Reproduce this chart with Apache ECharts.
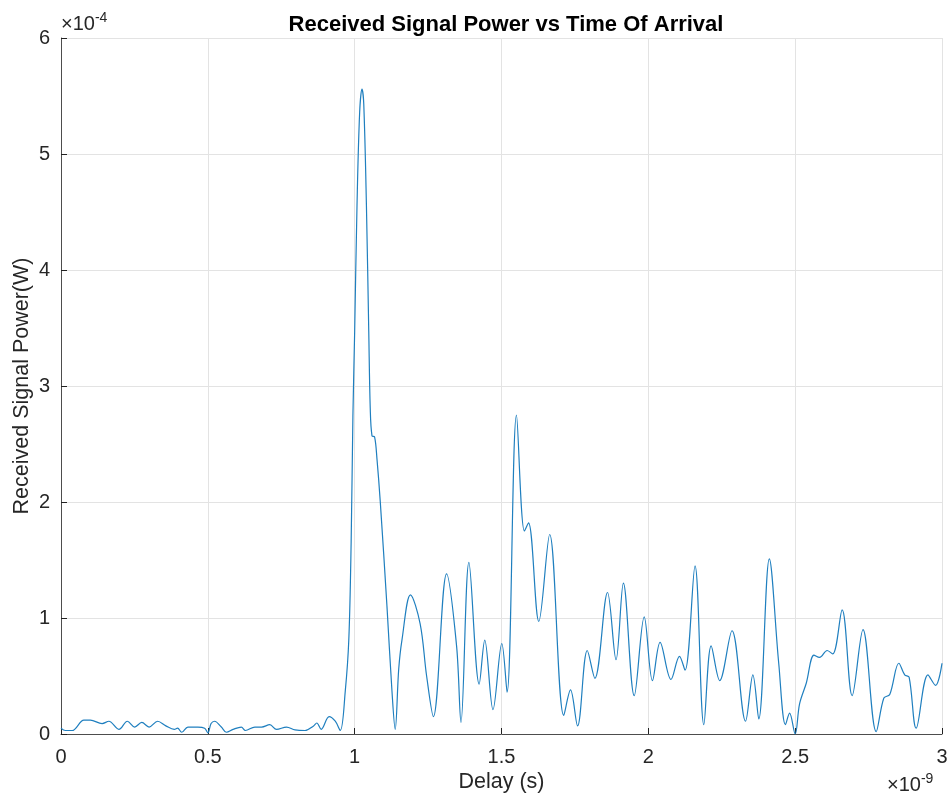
<!DOCTYPE html>
<html>
<head>
<meta charset="utf-8">
<script src="https://cdn.jsdelivr.net/npm/echarts@6/dist/echarts.min.js"></script>
<style>
html,body{margin:0;padding:0;background:#fff;}
#chart{width:950px;height:799px;}
</style>
</head>
<body>
<div id="chart"></div>
<script>
// Delay in units of 1e-9 s
var delay = [
0.000,0.015,0.038,0.078,0.100,0.140,0.163,0.197,0.226,0.251,0.275,0.300,0.329,0.357,0.386,0.397,0.411,0.432,0.466,0.489,
0.500,0.511,0.523,0.546,0.563,0.586,0.614,0.628,0.660,0.683,0.711,0.734,0.768,0.797,0.831,0.860,0.871,0.886,0.913,0.934,
0.951,0.968,0.980,0.988,0.994,1.000,1.008,1.017,1.025,1.031,1.040,1.048,1.053,1.059,1.068,1.076,1.087,1.110,1.127,1.138,
1.150,1.161,1.190,1.223,1.245,1.268,1.313,1.347,1.362,1.389,1.424,1.443,1.471,1.501,1.519,1.551,1.578,1.592,1.627,1.664,
1.712,1.735,1.759,1.792,1.818,1.861,1.890,1.915,1.952,1.986,2.014,2.040,2.077,2.106,2.125,2.159,2.189,2.214,2.243,2.285,
2.331,2.356,2.376,2.412,2.444,2.467,2.481,2.500,2.515,2.538,2.564,2.583,2.609,2.628,2.660,2.694,2.731,2.776,2.802,2.822,
2.853,2.873,2.888,2.912,2.952,2.978,3.000
];
// Received power in units of 1e-4 W
var power = [
0.05,0.03,0.03,0.12,0.12,0.09,0.11,0.04,0.11,0.06,0.10,0.06,0.11,0.07,0.04,0.05,0.015,0.06,0.06,0.05,
0.01,0.09,0.11,0.06,0.015,0.04,0.06,0.03,0.06,0.06,0.08,0.04,0.06,0.035,0.03,0.07,0.095,0.04,0.15,0.11,
0.03,0.37,0.81,1.65,2.74,3.47,4.56,5.36,5.56,5.43,4.56,3.47,2.81,2.57,2.56,2.37,2.01,1.10,0.37,0.04,
0.56,0.81,1.20,0.95,0.50,0.15,1.38,0.76,0.10,1.48,0.43,0.81,0.21,0.78,0.36,2.75,1.75,1.82,0.97,1.72,
0.16,0.38,0.07,0.72,0.48,1.22,0.64,1.30,0.33,1.01,0.46,0.79,0.47,0.67,0.55,1.45,0.08,0.76,0.46,0.89,
0.11,0.51,0.13,1.51,0.61,0.08,0.18,0.00,0.26,0.44,0.68,0.66,0.72,0.69,1.07,0.33,0.90,0.02,0.31,0.34,
0.61,0.51,0.49,0.05,0.51,0.42,0.61
];
var xTicks = [0, 0.5, 1, 1.5, 2, 2.5, 3];
var yTicks = [0, 1, 2, 3, 4, 5, 6];
var titleText = 'Received Signal Power vs Time Of Arrival';
var xName = 'Delay (s)';
var yName = 'Received Signal Power(W)';
var xExp = '-9';
var yExp = '-4';

var pts = delay.map(function (d, i) { return [d, power[i]]; });
var font = '"Liberation Sans", Arial, Helvetica, sans-serif';
var axisCol = '#4d4d4d';
var textCol = '#262626';

var chart = echarts.init(document.getElementById('chart'), null, {renderer: 'canvas'});
chart.setOption({
  backgroundColor: '#ffffff',
  animation: false,
  title: {
    text: titleText,
    left: 501, top: 9, textAlign: 'center',
    textStyle: {fontFamily: font, fontSize: 22, fontWeight: 'bold', color: '#000'}
  },
  grid: {left: 61, right: 8, top: 38, bottom: 65, containLabel: false, outerBoundsMode: 'none'},
  xAxis: {
    type: 'value', min: xTicks[0], max: xTicks[xTicks.length - 1], interval: 0.5,
    name: xName, nameLocation: 'middle', nameGap: 37, nameMoveOverlap: false,
    nameTextStyle: {fontFamily: font, fontSize: 21.5, color: textCol},
    axisLine: {show: true, onZero: false, lineStyle: {color: axisCol, width: 1}},
    axisTick: {show: true, inside: true, length: 6, lineStyle: {color: '#222'}},
    axisLabel: {fontFamily: font, fontSize: 20, color: textCol, margin: 13,
      formatter: function (v) { return String(v); }},
    splitLine: {show: true, lineStyle: {color: '#e3e3e3', width: 1}}
  },
  yAxis: {
    type: 'value', min: yTicks[0], max: yTicks[yTicks.length - 1], interval: 1,
    name: yName, nameLocation: 'middle', nameGap: 28, nameRotate: 90, nameMoveOverlap: false,
    nameTextStyle: {fontFamily: font, fontSize: 21.5, color: textCol},
    axisLine: {show: true, onZero: false, lineStyle: {color: axisCol, width: 1}},
    axisTick: {show: true, inside: true, length: 6, lineStyle: {color: '#222'}},
    axisLabel: {fontFamily: font, fontSize: 20, color: textCol, margin: 11},
    splitLine: {show: true, lineStyle: {color: '#e3e3e3', width: 1}}
  },
  series: [{
    type: 'line', data: pts, showSymbol: false, symbol: 'none',
    smooth: 0.35,
    lineStyle: {color: '#1f7fbf', width: 1.2},
    clip: true
  }],
  graphic: [
    {type: 'text', left: 61, top: 11, style: {
      rich: {b: {fontFamily: font, fontSize: 20, fill: textCol}, s: {fontFamily: font, fontSize: 14, fill: textCol, verticalAlign: 'top', padding: [0,0,12,0]}},
      text: '{b|\u00d710}{s|' + yExp + '}'
    }},
    {type: 'text', left: 887, top: 772, style: {
      rich: {b: {fontFamily: font, fontSize: 20, fill: textCol}, s: {fontFamily: font, fontSize: 14, fill: textCol, verticalAlign: 'top', padding: [0,0,12,0]}},
      text: '{b|\u00d710}{s|' + xExp + '}'
    }}
  ]
});
</script>
</body>
</html>
